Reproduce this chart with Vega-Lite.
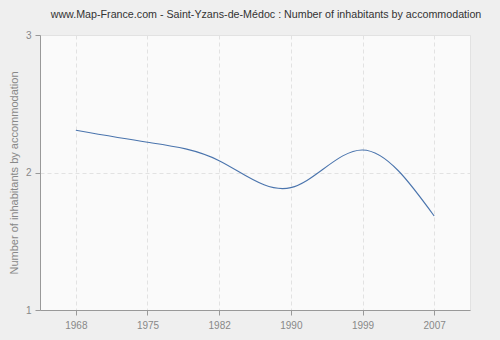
{
  "$schema": "https://vega.github.io/schema/vega-lite/v6.json",
  "width": 430,
  "height": 275,
  "autosize": "none",
  "padding": {"left": 40, "top": 35, "right": 30, "bottom": 30},
  "background": "#efefef",
  "title": {
    "text": "www.Map-France.com - Saint-Yzans-de-Médoc : Number of inhabitants by accommodation",
    "font": "Liberation Sans",
    "fontSize": 10.7,
    "fontWeight": "normal",
    "color": "#333333",
    "anchor": "middle",
    "frame": "group",
    "dx": 11,
    "offset": 9
  },
  "data": {
    "values": [
      {"year": "1968", "value": 2.307},
      {"year": "1975", "value": 2.22},
      {"year": "1982", "value": 2.086},
      {"year": "1990", "value": 1.89},
      {"year": "1999", "value": 2.164},
      {"year": "2007", "value": 1.684}
    ]
  },
  "mark": {"type": "line", "interpolate": "natural", "color": "#4a74ad", "strokeWidth": 1.1},
  "encoding": {
    "x": {
      "field": "year",
      "type": "ordinal",
      "scale": {"type": "point", "padding": 0.5},
      "axis": {
        "title": null,
        "labelPadding": 5,
        "labelAngle": 0
      }
    },
    "y": {
      "field": "value",
      "type": "quantitative",
      "scale": {"domain": [1, 3], "nice": false, "zero": false},
      "axis": {
        "values": [1, 2, 3],
        "format": ".0f",
        "title": "Number of inhabitants by accommodation",
        "titlePadding": 6,
        "labelPadding": 4
      }
    }
  },
  "config": {
    "view": {"fill": "#fafafa", "stroke": "#e2e2e2"},
    "axis": {
      "domainColor": "#999999",
      "tickColor": "#999999",
      "tickSize": 5,
      "labelColor": "#888888",
      "labelFont": "Liberation Sans",
      "labelFontSize": 10,
      "titleColor": "#888888",
      "titleFont": "Liberation Sans",
      "titleFontSize": 11,
      "titleFontWeight": "normal",
      "grid": true,
      "gridColor": "#e2e2e2",
      "gridDash": [4, 3]
    }
  }
}
